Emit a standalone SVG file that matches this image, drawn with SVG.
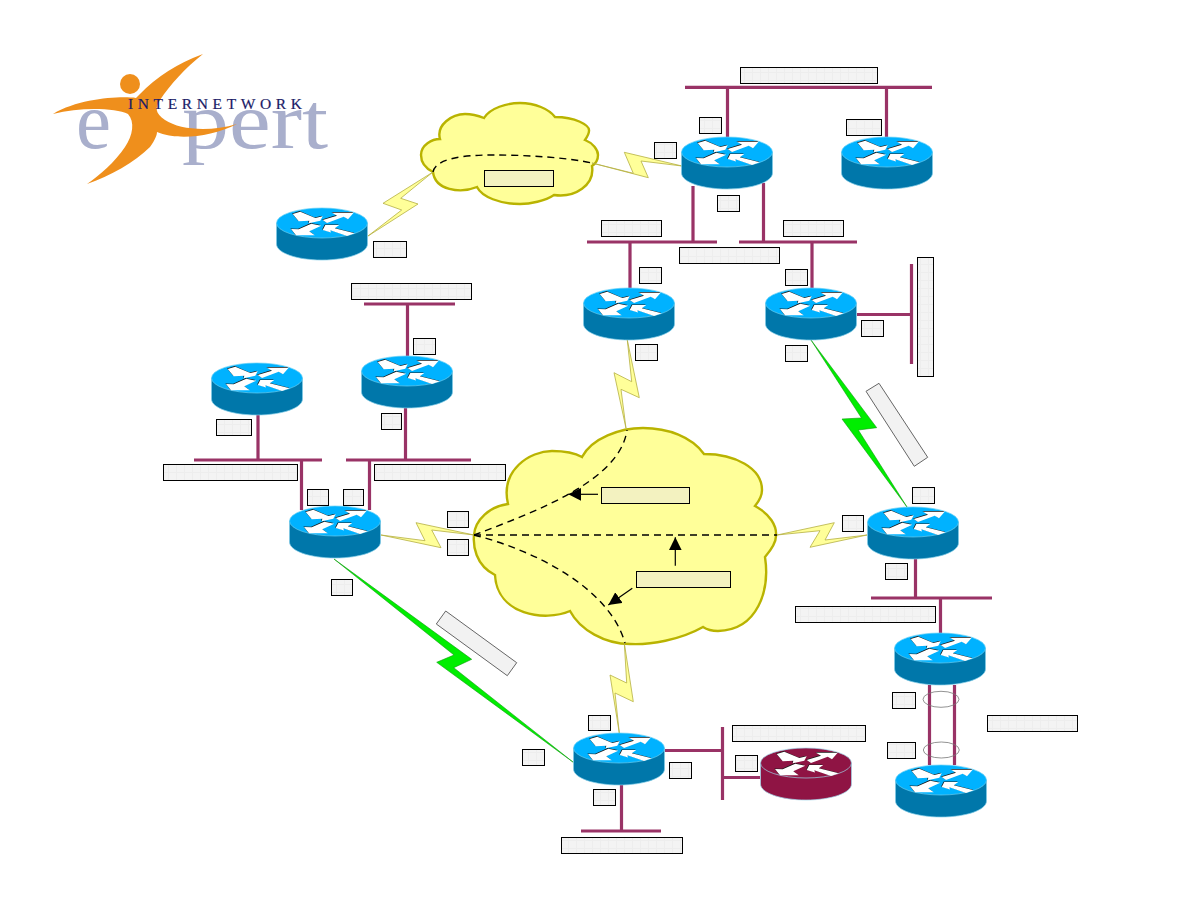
<svg xmlns="http://www.w3.org/2000/svg" xmlns:xlink="http://www.w3.org/1999/xlink" width="1188" height="918" viewBox="0 0 1188 918">
<style>
.link{stroke:#993366;stroke-width:3.2;fill:none}
.bolt{fill:#ffff99;stroke:#b5b043;stroke-width:.8;stroke-linejoin:miter}
.fast{fill:#00ee00;stroke:#0a9a0a;stroke-width:.6}
.cloud{fill:#ffff99;stroke:#b9b300;stroke-width:2.4}
.path{fill:none;stroke:#000;stroke-width:1.4;stroke-dasharray:7 5}
.box{fill:url(#mesh);stroke:#000;stroke-width:1}
.tint{fill:#f3f2c0;stroke:#000;stroke-width:1}
.tag{fill:#f2f2f2;stroke:#666;stroke-width:1}
.ring{fill:none;stroke:#777;stroke-width:.8}
.pointer{stroke:#000;stroke-width:1.2;fill:none;marker-end:url(#head)}
.logo{font-family:"Liberation Serif","Times New Roman",serif}
</style>
<defs>
<pattern id="mesh" width="8" height="8" patternUnits="userSpaceOnUse">
<rect width="8" height="8" fill="#f3f3f3"/>
<path d="M0 .5H8M.5 0V8" stroke="#ededed" stroke-width="1"/>
</pattern>
<marker id="head" markerUnits="userSpaceOnUse" markerWidth="15" markerHeight="15" refX="13" refY="6.5" orient="auto">
<path d="M0 0L13 6.5L0 13Z" fill="#000"/>
</marker>
<path id="arrows" d="M-29.3 6L-21.7 3.7L-6.7 10L.7 8.3L-1.7 12.7L-13.3 15.3L-12.7 12.7L-23.3 13.3ZM10 4.7L31.7 4.7L26 11.3L21.7 8.7L5 15L.7 12L15 7.7ZM-31 21L-26 27.3L-7.3 27.3L-12.7 23.3L-.7 17.7L-10.7 15.7L-23.3 21.3ZM.7 22L3.3 17L17.3 17L12.7 20.3L32.7 25.3L25 28L8.3 22.3L9 24.5Z"/>
<g id="router">
<path d="M-45.5 15V36C-45.5 45 -25 52 0 52S45.5 45 45.5 36V15Z" fill="#0077aa" stroke="#7fcbe6" stroke-width=".7"/>
<ellipse cx="0" cy="15" rx="45.5" ry="15" fill="#00b2ff" stroke="#66d0f5" stroke-width=".7"/>
<use href="#arrows" x="-.6" y="-.6" fill="#1a1a1a"/>
<use href="#arrows" fill="#fff"/>
</g>
<g id="router-maroon">
<path d="M-45.5 15V36C-45.5 45 -25 52 0 52S45.5 45 45.5 36V15Z" fill="#8f1444" stroke="#9fd4e8" stroke-width=".7"/>
<ellipse cx="0" cy="15" rx="45.5" ry="15" fill="#8f1444" stroke="#9fd4e8" stroke-width=".7"/>
<use href="#arrows" x="-.6" y="-.6" fill="#1a1a1a"/>
<use href="#arrows" fill="#fff"/>
</g>
</defs>

<rect width="1188" height="918" fill="#fff"/>

<!-- company mark -->
<g id="logo">
<text class="logo" x="76" y="148" font-size="80" fill="#a9afcc" textLength="35" lengthAdjust="spacingAndGlyphs">e</text>
<text class="logo" x="182" y="148" font-size="80" fill="#a9afcc" textLength="146" lengthAdjust="spacingAndGlyphs">pert</text>
<circle cx="130" cy="84" r="10" fill="#ef8f1c"/>
<path fill="#ef8f1c" d="M203 54Q165 68 140 94L136 98C120 96 80 98 53 114C80 107 115 108 128 114C135 122 133 135 125 147C115 162 100 175 87 184C110 176 135 162 150 147C155 140 157 135 157 132C175 140 210 138 237 124C210 132 180 130 165 120C155 113 155 108 160 100C170 85 185 68 203 54Z"/>
<text class="logo" x="128" y="109" font-size="15.5" fill="#1a1a66" stroke="#1a1a66" stroke-width=".2" textLength="174">INTERNETWORK</text>
</g>

<!-- wan clouds -->
<g id="cloud-top"><path class="cloud" d="M484 118C490 108 507 103 520 103C535 103 549 109 555 117C575 117 590 125 589 131C589 134 587 137 585 140C593 143 598 150 598 155C598 160 595 164 592 166C595 185 575 198 554 195C545 201 530 204 520 204C500 204 482 197 477 187C460 194 435 190 433 172C425 168 421 162 421 155C421 145 432 139 440 139C436 125 452 114 465 114C472 114 479 116 484 118Z"/></g>
<g id="cloud-main"><path class="cloud" d="M582 457C592 438 620 428 643 428C668 428 692 437 704 454C735 454 762 468 762 490C762 495 760 500 755 506C770 514 777 526 776 536C776 543 771 550 765 557C770 590 758 630 718 631C712 631 706 629 703 627C680 640 650 645 630 644C605 644 580 630 570 611C545 622 497 615 495 575C475 565 473 545 474 535C475 520 490 506 508 504C500 470 530 451 552 451C565 451 575 453 582 457Z"/></g>

<!-- connectors -->
<g id="connectors">
<path class="link" d="M685 87.3H932M727.5 87V137M886.5 87V137"/>
<path class="link" d="M693 186V242M763.5 183V242M587 242H717M739 242H857M630 242V288M812 242V288"/>
<path class="link" d="M857 314.5H912M911.5 264V364"/>
<path class="link" d="M364 304H455M407.5 304V356M405.5 408V460"/>
<path class="link" d="M258 415V460M194 460H322M346 460H471M301.5 460V510M369.5 460V510"/>
<path class="link" d="M915.5 559V598M871 598H992M940.5 598V633M929.5 685V765M954.5 685V765"/>
<path class="link" d="M665 750.5H722M722.5 727V800M722 777.5H760M621.5 785V831M581 831H661"/>
<path class="bolt" d="M368 236L401.7 210L383 203.3L433 172L400.7 198.3L418 204Z"/>
<path class="bolt" d="M592 163L633.3 173.3L624.3 152.3L682 166L641 161L648.3 177.7Z"/>
<path class="bolt" d="M627.3 340L631.7 381.7L614 372.7L626 428.3L621 389.3L639.3 397.7Z"/>
<path class="bolt" d="M381 535L425 540.7L416 522.7L474 535L431.7 530L441 547.7Z"/>
<path class="bolt" d="M777 535L834.3 522.7L825 540L867 535L810 547.3L820 530.7Z"/>
<path class="bolt" d="M624.3 643L626.7 683L610 675L619.3 733L615 693L633.3 701.7Z"/>
<path class="fast" d="M334 559L471.7 659.3L453.7 667.7L573.3 762.3L436.7 662.3L454 655Z"/>
<path class="fast" d="M811 340L876.7 427.7L858.3 430L907 507L842 419L861.5 418Z"/>
<ellipse class="ring" cx="941" cy="699.3" rx="18" ry="8"/>
<ellipse class="ring" cx="941.3" cy="750" rx="18" ry="8"/>
<path class="path" d="M433 172C436 155 480 155 495 155C530 155 570 158 592 163"/>
<path class="path" d="M474 535C540 510 620 480 627 430"/>
<path class="path" d="M474 535H777"/>
<path class="path" d="M474 535C540 552 610 590 625 643"/>
<path class="pointer" d="M598 494.3H568.3"/>
<path class="pointer" d="M675.3 565.7V537.3"/>
<path class="pointer" d="M632.3 588.3L608.3 605"/>
</g>

<!-- routers -->
<g id="r1"><use href="#router" x="727" y="137"/></g>
<g id="r2"><use href="#router" x="887" y="137"/></g>
<g id="r3"><use href="#router" x="322" y="208"/></g>
<g id="r4"><use href="#router" x="629" y="288"/></g>
<g id="r5"><use href="#router" x="811" y="288"/></g>
<g id="r6"><use href="#router" x="257" y="363"/></g>
<g id="r7"><use href="#router" x="407" y="356"/></g>
<g id="r8"><use href="#router" x="335" y="506"/></g>
<g id="r9"><use href="#router" x="913" y="507"/></g>
<g id="r10"><use href="#router" x="940" y="633"/></g>
<g id="r11"><use href="#router" x="941" y="765"/></g>
<g id="r12"><use href="#router" x="619" y="733"/></g>
<g id="r13"><use href="#router-maroon" x="806" y="748"/></g>

<!-- label plates -->
<g id="labels">
<rect class="box" x="740.5" y="67.5" width="137" height="16"/>
<rect class="box" x="699.5" y="117.5" width="22" height="16"/>
<rect class="box" x="846.5" y="119.5" width="35" height="16"/>
<rect class="box" x="654.5" y="142.5" width="22" height="16"/>
<rect class="box" x="717.5" y="195.5" width="22" height="16"/>
<rect class="box" x="601.5" y="220.5" width="60" height="16"/>
<rect class="box" x="783.5" y="220.5" width="60" height="16"/>
<rect class="box" x="679.5" y="247.5" width="100" height="16"/>
<rect class="tint" x="484.5" y="170.5" width="69" height="16"/>
<rect class="box" x="373.5" y="241.5" width="33" height="16"/>
<rect class="box" x="351.5" y="283.5" width="120" height="16"/>
<rect class="box" x="639.5" y="267.5" width="22" height="16"/>
<rect class="box" x="785.5" y="269.5" width="22" height="16"/>
<rect class="box" x="635.5" y="344.5" width="22" height="16"/>
<rect class="box" x="861.5" y="320.5" width="22" height="16"/>
<rect class="box" x="785.5" y="345.5" width="22" height="16"/>
<rect class="box" x="413.5" y="338.5" width="22" height="16"/>
<rect class="box" x="381.5" y="413.5" width="20" height="16"/>
<rect class="box" x="917.5" y="257.5" width="16" height="119"/>
<rect class="box" x="216.5" y="419.5" width="35" height="16"/>
<rect class="box" x="163.5" y="464.5" width="134" height="16"/>
<rect class="box" x="374.5" y="464.5" width="131" height="16"/>
<rect class="box" x="307.5" y="489.5" width="21" height="16"/>
<rect class="box" x="343.5" y="489.5" width="20" height="16"/>
<rect class="box" x="447.5" y="511.5" width="21" height="16"/>
<rect class="box" x="447.5" y="539.5" width="21" height="16"/>
<rect class="box" x="331.5" y="579.5" width="21" height="16"/>
<rect class="tint" x="601.5" y="487.5" width="88" height="16"/>
<rect class="tint" x="636.5" y="571.5" width="94" height="16"/>
<rect class="box" x="912.5" y="487.5" width="22" height="16"/>
<rect class="box" x="842.5" y="515.5" width="21" height="16"/>
<rect class="box" x="885.5" y="563.5" width="22" height="16"/>
<rect class="box" x="795.5" y="606.5" width="140" height="16"/>
<rect class="box" x="892.5" y="692.5" width="23" height="16"/>
<rect class="box" x="887.5" y="742.5" width="28" height="16"/>
<rect class="box" x="987.5" y="715.5" width="90" height="16"/>
<rect class="box" x="588.5" y="715.5" width="22" height="15"/>
<rect class="box" x="669.5" y="762.5" width="22" height="16"/>
<rect class="box" x="593.5" y="789.5" width="22" height="16"/>
<rect class="box" x="732.5" y="725.5" width="133" height="16"/>
<rect class="box" x="735.5" y="755.5" width="22" height="16"/>
<rect class="box" x="561.5" y="837.5" width="121" height="16"/>
<rect class="box" x="522.5" y="749.5" width="22" height="16"/>
<polygon class="tag" points="866,391.3 879,383.3 927.7,457.3 914.3,466.3"/>
<polygon class="tag" points="445.7,611 516.7,662.7 507.3,675.7 436.3,624"/>
</g>
</svg>
